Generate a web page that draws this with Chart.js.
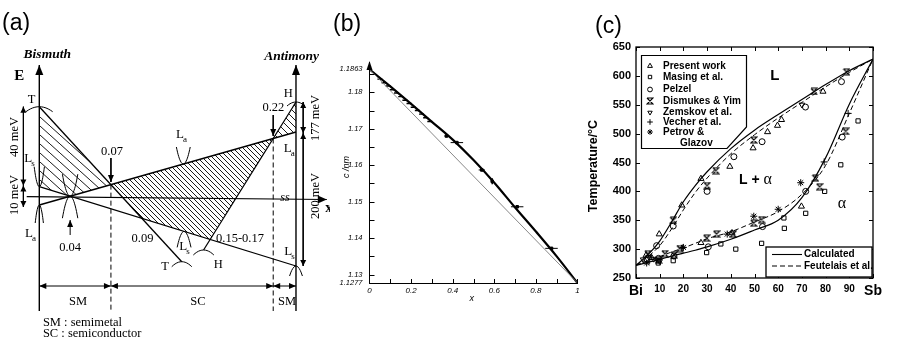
<!DOCTYPE html>
<html>
<head>
<meta charset="utf-8">
<script src="https://cdn.jsdelivr.net/npm/chart.js@4.4.1/dist/chart.umd.min.js"></script>
<style>
html, body { margin: 0; padding: 0; background: #fff; }
#wrap { position: relative; width: 900px; height: 348px; overflow: hidden; background: #fff; }
#wrap canvas { position: absolute; top: 0; }
.tag { position: absolute; font-family: "Liberation Sans", Arial, sans-serif; font-size: 23px; line-height: 1; color: #000; }
</style>
</head>
<body>
<div id="wrap">
  <canvas id="chart-a" width="330" height="348" style="left:0"></canvas>
  <canvas id="chart-b" width="255" height="348" style="left:330px"></canvas>
  <canvas id="chart-c" width="315" height="348" style="left:585px"></canvas>
  <div class="tag" style="left:2px;top:11px">(a)</div>
  <div class="tag" style="left:333px;top:12px">(b)</div>
  <div class="tag" style="left:595px;top:14px">(c)</div>
</div>
<script>
Chart.defaults.font.family = '"Liberation Sans", Arial, sans-serif';
Chart.defaults.color = "#000";
Chart.defaults.animation = false;

const SERIF = '"Liberation Serif", "Times New Roman", serif';
const SANS = '"Liberation Sans", Arial, sans-serif';

// ── (a) band scheme: x 0 = Bi, 100 = Sb (schematic), y energy (0 on the x axis) ──
const bandT  = [[0, 91.3], [55.5, -63.7]];
const bandLa = [[0, -7], [100, 66]];
const bandLs = [[0, 11.3], [100, -68]];
const bandH  = [[64, -52], [100, 96]];
// band edge sketches: [x, y, half width, depth]  depth < 0 -> cap
const bandEdges = [
  [0, 91.3, 5.2, -5], [0, 11.3, 2, 20], [0, -7, 1.6, -18],
  [12, 1.8, 3, 22], [12, 1.8, 3, -22],
  [56.1, 34, 2.7, 17], [56.4, -33.4, 2.7, -16],
  [55.5, -63.7, 3.9, -5], [64, -52, 4, -5],
  [100, 96, 3.5, -4], [100, -68, 2.5, -10]
];

// ── (b) c lattice parameter vs x ──
const latticeX = [0, 0.1, 0.2, 0.3, 0.4, 0.5, 0.6, 0.7, 0.8, 0.9, 1];
const latticeC = [1.1863, 1.1816, 1.1768, 1.1719, 1.1670, 1.1614, 1.1552, 1.1484, 1.1418, 1.1350, 1.1277];
const vegardX = [0, 1];
const vegardC = [1.1863, 1.1277];
const clusterX = [0.05, 0.07, 0.09, 0.11, 0.13, 0.15, 0.17, 0.19, 0.21, 0.23, 0.25, 0.27, 0.29];
const clusterC = [1.1836, 1.1826, 1.1817, 1.1807, 1.1798, 1.1788, 1.1778, 1.1769, 1.1759, 1.1750, 1.1740, 1.1730, 1.1720];
const measX  = [0.37, 0.42, 0.54, 0.59, 0.71, 0.875];
const measC  = [1.1680, 1.1662, 1.1587, 1.1556, 1.1486, 1.1372];
const measDx = [0.01, 0.03, 0.015, 0, 0.03, 0.03];
const measDc = [0, 0, 0, 0.0008, 0, 0];
const cTicks = [1.1277, 1.13, 1.14, 1.15, 1.16, 1.17, 1.18, 1.1863];
const xTicksB = [0, 0.2, 0.4, 0.6, 0.8, 1];

// ── (c) Bi-Sb phase diagram ──
const compX   = [0, 5, 10, 15, 20, 25, 30, 40, 50, 60, 70, 80, 90, 100];
const liqCalc = [272, 290, 314, 347, 382, 410, 434, 474, 506, 533, 559, 585, 609, 629];
const solCalc = [272, 277, 282, 288, 293, 298, 304, 317, 333, 350, 389, 458, 551, 629];
const liqFeut = [272, 287, 306, 335, 368, 398, 423, 465, 498, 527, 554, 581, 606, 629];
const solFeut = [272, 280, 287, 295, 302, 310, 318, 330, 347, 365, 395, 445, 535, 629];

const presentX = [4.2, 6.6, 9.8, 19.3, 27.4, 39.6, 49.4, 55.5, 59.7, 61.4, 78.9, 27.4, 40.5, 69.8];
const presentT = [289, 285, 326, 376, 422, 443, 475, 503, 514, 524, 573, 311, 328, 374];
const masingX = [9.4, 9.6, 15.7, 29.8, 35.8, 42.1, 53, 62.4, 62.6, 71.6, 79.6, 86.4, 93.7];
const masingT = [276, 280, 280, 294, 309, 300, 310, 354, 336, 362, 400, 446, 522];
const pelzelX = [8.7, 15.7, 30, 41.3, 53.2, 71.5, 86.7, 30.5, 53.4, 71.6, 87, 9.5, 16];
const pelzelT = [306, 340, 400, 460, 486, 546, 590, 304, 339, 400, 494, 284, 288];
const dismukesX = [5, 12.2, 15.7, 16.1, 18.5, 30, 33.7, 49.7, 75.1, 88.8, 29.8, 34, 41, 49.7, 53, 75.7, 77.5, 88.5, 9.5];
const dismukesT = [292, 292, 350, 290, 301, 410, 436, 489, 573, 607, 319, 326, 326, 345, 351, 423, 408, 504, 281];
const zemskovX = [3, 5.5, 7.5, 10, 70];
const zemskovT = [282, 286, 283, 279, 550];
const vecherX = [5.5, 19.5, 79.4, 89.5];
const vecherT = [279, 302, 451, 535];
const petrovX = [4.5, 20, 38.5, 49.7, 60, 69.5];
const petrovT = [276, 303, 326, 357, 369, 415];

// ── shared helpers ──────────────────────────────────────────────────
const zip = (xs, ys) => xs.map((x, i) => ({ x, y: ys[i] }));
const pairs = pts => pts.map(([x, y]) => ({ x, y }));

function cross(a, b) {
  const [[x1, y1], [x2, y2]] = a, [[x3, y3], [x4, y4]] = b;
  const m1 = (y2 - y1) / (x2 - x1), m2 = (y4 - y3) / (x4 - x3);
  const x = (y3 - y1 + m1 * x1 - m2 * x3) / (m1 - m2);
  return [x, y1 + m1 * (x - x1)];
}

function edgeCurve([x0, y0, hw, d]) {
  const pts = [];
  for (let i = -6; i <= 6; i++) {
    const t = i / 6;
    pts.push([x0 + hw * t, y0 + d * t * t]);
  }
  return pts;
}

function hatch(ctx, w, h) {
  const c = document.createElement("canvas");
  c.width = w; c.height = h;
  const g = c.getContext("2d");
  g.strokeStyle = "#000";
  g.lineWidth = 0.9;
  g.beginPath();
  g.moveTo(0, 0); g.lineTo(w, h);
  g.moveTo(-w, 0); g.lineTo(0, h);
  g.moveTo(w, 0); g.lineTo(2 * w, h);
  g.stroke();
  return ctx.createPattern(c, "repeat");
}

function seg(points, extra) {
  return Object.assign({
    type: "line",
    data: pairs(points),
    borderColor: "#000",
    borderWidth: 1,
    pointRadius: 0,
    fill: false,
    tension: 0,
  }, extra || {});
}

// arrowheads on dataset ends (dataset.arrows = 'end' | 'start' | 'both')
const arrowPlugin = {
  id: "arrows",
  afterDatasetsDraw(chart) {
    const ctx = chart.ctx;
    chart.data.datasets.forEach((ds, i) => {
      if (!ds.arrows) return;
      const pts = chart.getDatasetMeta(i).data;
      const n = pts.length;
      const len = ds.arrowLen || 8, half = ds.arrowHalf || 3;
      const head = (tip, from) => {
        const a = Math.atan2(tip.y - from.y, tip.x - from.x);
        ctx.save();
        ctx.translate(tip.x, tip.y);
        ctx.rotate(a);
        ctx.beginPath();
        ctx.moveTo(0, 0);
        ctx.lineTo(-len, -half);
        ctx.lineTo(-len, half);
        ctx.closePath();
        ctx.fillStyle = "#000";
        ctx.fill();
        ctx.restore();
      };
      if (ds.arrows === "end" || ds.arrows === "both") head(pts[n - 1], pts[n - 2]);
      if (ds.arrows === "start" || ds.arrows === "both") head(pts[0], pts[1]);
    });
  }
};

// ── Chart (a) ───────────────────────────────────────────────────────
const p04 = cross(bandLa, bandLs);
const p07 = cross(bandT, bandLa);
const p09 = cross(bandT, bandLs);
const p15 = cross(bandH, bandLs);
const p22 = cross(bandH, bandLa);

const notesA = [
  { t: "Bismuth", x: 3.1, y: 143, font: "italic bold 13.5px" },
  { t: "Antimony", x: 98.3, y: 141, font: "italic bold 13.5px" },
  { t: "E", x: -7.8, y: 122, font: "bold 15px" },
  { t: "T", x: -3, y: 98 },
  { t: "L", sub: "s", x: -4.3, y: 39.7 },
  { t: "L", sub: "a", x: -4, y: -35.3 },
  { t: "0.04", x: 12, y: -49.3 },
  { t: "0.07", x: 28.3, y: 46.3 },
  { t: "L", sub: "a", x: 54.8, y: 63 },
  { t: "0.09", x: 40.2, y: -40.3 },
  { t: "L", sub: "s", x: 56.1, y: -48.7 },
  { t: "T", x: 49, y: -68.7 },
  { t: "H", x: 69.7, y: -67 },
  { t: "0.15-0.17", x: 78.2, y: -40.3 },
  { t: "0.22", x: 91.2, y: 90.7 },
  { t: "H", x: 97, y: 104.7 },
  { t: "L", sub: "a", x: 96.8, y: 49 },
  { t: "L", sub: "s", x: 97, y: -53.7 },
  { t: "40 meV", x: -9.5, y: 61, rot: true },
  { t: "10 meV", x: -9.5, y: 3, rot: true },
  { t: "177 meV", x: 107.8, y: 80, rot: true },
  { t: "200 meV", x: 107.8, y: 2, rot: true },
  { t: "x", x: 112.8, y: -10, font: "bold 14px" },
  { t: "ss", x: 95.7, y: 0, font: "italic 12px" },
  { t: "SM", x: 15.1, y: -104 },
  { t: "SC", x: 61.8, y: -104 },
  { t: "SM", x: 96.5, y: -104 },
  { t: "SM : semimetal", x: 1.4, y: -125, align: "left" },
  { t: "SC : semiconductor", x: 1.4, y: -136, align: "left" },
];

const notesPluginA = {
  id: "notesA",
  afterDatasetsDraw(chart) {
    const { ctx, scales: { x, y } } = chart;
    ctx.save();
    ctx.fillStyle = "#000";
    ctx.textBaseline = "middle";
    notesA.forEach(n => {
      const px = x.getPixelForValue(n.x), py = y.getPixelForValue(n.y);
      ctx.font = (n.font || "12.5px") + " " + SERIF;
      if (n.rot) {
        ctx.save();
        ctx.translate(px, py);
        ctx.rotate(-Math.PI / 2);
        ctx.textAlign = "center";
        ctx.fillText(n.t, 0, 0);
        ctx.restore();
      } else if (n.sub) {
        ctx.font = "13px " + SERIF;
        ctx.textAlign = "center";
        ctx.fillText(n.t, px, py);
        const w = ctx.measureText(n.t).width;
        ctx.font = "9px " + SERIF;
        ctx.textAlign = "left";
        ctx.fillText(n.sub, px + w / 2 - 1, py + 5);
      } else {
        ctx.textAlign = n.align || "center";
        ctx.fillText(n.t, px, py);
      }
    });
    ctx.restore();
  }
};

const ctxA = document.getElementById("chart-a").getContext("2d");
const dsA = [
  seg([[0, bandT[0][1]], p07, p04, [0, bandLs[0][1]], [0, bandT[0][1]]],
      { fill: "shape", backgroundColor: hatch(ctxA, 10, 9), borderColor: "rgba(0,0,0,0)" }),
  seg([p07, p22, p15, p09, p07],
      { fill: "shape", backgroundColor: hatch(ctxA, 5, 5), borderColor: "rgba(0,0,0,0)" }),
  seg([p22, bandH[1], bandLa[1], p22],
      { fill: "shape", backgroundColor: hatch(ctxA, 7, 7), borderColor: "rgba(0,0,0,0)" }),
  seg(bandT, { borderWidth: 1.3 }),
  seg(bandLa, { borderWidth: 1.3 }),
  seg(bandLs, { borderWidth: 1.3 }),
  seg(bandH, { borderWidth: 1.3 }),
  ...bandEdges.map(e => seg(edgeCurve(e), { tension: 0.3 })),
  // axes
  seg([[0, -113], [0, 133]], { borderWidth: 1.4, arrows: "end", arrowLen: 10, arrowHalf: 4 }),
  seg([[100, -113], [100, 133]], { borderWidth: 1.4, arrows: "end", arrowLen: 10, arrowHalf: 4 }),
  seg([[-4.9, 1.3], [112, -1.5]], { borderWidth: 1.2, arrows: "end", arrowLen: 9, arrowHalf: 4 }),
  // dashed borders of the SC range
  seg([p07, [p07[0], -113]], { borderDash: [5, 3] }),
  seg([p22, [p22[0], -113]], { borderDash: [5, 3] }),
  // SM / SC / SM ranges
  seg([[0, -88], [p07[0], -88]], { arrows: "both", arrowLen: 7, arrowHalf: 3 }),
  seg([[p07[0], -88], [p22[0], -88]], { arrows: "both", arrowLen: 7, arrowHalf: 3 }),
  seg([[p22[0], -88], [100, -88]], { arrows: "both", arrowLen: 7, arrowHalf: 3 }),
  // energy gaps
  seg([[-6.2, 91.3], [-6.2, 12.5]], { arrows: "both", arrowLen: 6, arrowHalf: 3 }),
  seg([[-6.2, 12.5], [-6.2, -9]], { arrows: "both", arrowLen: 6, arrowHalf: 3 }),
  seg([[102.8, 96], [102.8, 65]], { arrows: "both", arrowLen: 6, arrowHalf: 3 }),
  seg([[102.8, 65], [102.8, -68]], { arrows: "both", arrowLen: 6, arrowHalf: 3 }),
  // pointers to the crossing compositions
  seg([[p07[0], 40], [p07[0], 16]], { arrows: "end", arrowLen: 7, arrowHalf: 3 }),
  seg([[p22[0], 83], [p22[0], 62]], { arrows: "end", arrowLen: 7, arrowHalf: 3 }),
  seg([[p04[0], -37], [p04[0], -22]], { arrows: "end", arrowLen: 7, arrowHalf: 3 }),
];

new Chart(ctxA, {
  type: "line",
  data: { datasets: dsA },
  options: {
    responsive: false,
    devicePixelRatio: 1,
    layout: { padding: 0 },
    plugins: { legend: { display: false }, tooltip: { enabled: false } },
    scales: {
      x: { type: "linear", min: -15.31, max: 113.25, display: false },
      y: { type: "linear", min: -150, max: 198, display: false },
    },
  },
  plugins: [arrowPlugin, notesPluginA],
});

// ── Chart (b) ───────────────────────────────────────────────────────
const axisPluginB = {
  id: "axisB",
  afterDraw(chart) {
    const { ctx, chartArea: a, scales: { x, y } } = chart;
    ctx.save();
    ctx.strokeStyle = "#000";
    ctx.lineWidth = 1;
    ctx.beginPath();
    for (let v = 1.13; v < 1.1871; v += 0.005) {
      const py = Math.round(y.getPixelForValue(v)) + 0.5;
      ctx.moveTo(a.left, py);
      ctx.lineTo(a.left + 5, py);
    }
    for (let v = 0.1; v < 1; v += 0.1) {
      const px = Math.round(x.getPixelForValue(v)) + 0.5;
      ctx.moveTo(px, a.bottom);
      ctx.lineTo(px, a.bottom - 4);
    }
    ctx.stroke();
    // arrow on the c axis
    ctx.fillStyle = "#000";
    ctx.beginPath();
    ctx.moveTo(a.left, a.top - 1);
    ctx.lineTo(a.left - 3, a.top + 8);
    ctx.lineTo(a.left + 3, a.top + 8);
    ctx.closePath();
    ctx.fill();
    // axis titles
    ctx.font = "italic 9px " + SANS;
    ctx.textAlign = "center";
    ctx.textBaseline = "middle";
    ctx.save();
    ctx.translate(16.5, 167);
    ctx.rotate(-Math.PI / 2);
    ctx.fillText("c /nm", 0, 0);
    ctx.restore();
    ctx.fillText("x", 141.7, 298);
    ctx.restore();
  }
};

const dsB = [
  { type: "line", data: zip(vegardX, vegardC), borderColor: "#7a7a7a", borderWidth: 0.9, pointRadius: 0 },
  { type: "line", data: zip(latticeX, latticeC), borderColor: "#000", borderWidth: 2.2, pointRadius: 0,
    cubicInterpolationMode: "monotone" },
  { type: "scatter", data: zip(clusterX, clusterC), pointStyle: "line", pointRadius: 2.5,
    pointBorderWidth: 1.4, pointBorderColor: "#000" },
  { type: "scatter", data: zip(measX, measC), pointStyle: "rect", pointRadius: 1.8,
    pointBackgroundColor: "#000", pointBorderColor: "#000" },
  ...measX.filter((_, i) => measDx[i] > 0).map(x0 => {
    const i = measX.indexOf(x0);
    return { type: "line", data: [{ x: x0 - measDx[i], y: measC[i] }, { x: x0 + measDx[i], y: measC[i] }],
      borderColor: "#000", borderWidth: 1, pointRadius: 0 };
  }),
  ...measX.filter((_, i) => measDc[i] > 0).map(x0 => {
    const i = measX.indexOf(x0);
    return { type: "line", data: [{ x: x0, y: measC[i] - measDc[i] }, { x: x0, y: measC[i] + measDc[i] }],
      borderColor: "#000", borderWidth: 1.5, pointRadius: 0 };
  }),
];

new Chart(document.getElementById("chart-b"), {
  type: "line",
  data: { datasets: dsB },
  options: {
    responsive: false,
    devicePixelRatio: 1,
    layout: { padding: { left: 0, right: 7.5, top: 62, bottom: 45 } },
    plugins: { legend: { display: false }, tooltip: { enabled: false } },
    scales: {
      x: {
        type: "linear", min: 0, max: 1,
        grid: { display: false, drawTicks: false },
        border: { display: true, color: "#000", width: 1 },
        afterBuildTicks: s => { s.ticks = xTicksB.map(v => ({ value: v })); },
        afterFit: s => { s.height = 20; },
        ticks: { autoSkip: false, maxRotation: 0, padding: 3,
          font: { size: 8, style: "italic" }, callback: v => String(v) },
      },
      y: {
        type: "linear", min: 1.1277, max: 1.1883,
        grid: { display: false, drawTicks: false },
        border: { display: true, color: "#000", width: 1 },
        afterBuildTicks: s => { s.ticks = cTicks.map(v => ({ value: v })); },
        afterFit: s => { s.width = 39.5; },
        ticks: { autoSkip: false, padding: 7, font: { size: 7.5, style: "italic" },
          callback: v => (v === 1.1277 || v === 1.1863) ? String(v) : v.toFixed(2) },
      },
    },
  },
  plugins: [axisPluginB],
});

// ── Chart (c) ───────────────────────────────────────────────────────
function hourglass() {
  const c = document.createElement("canvas");
  c.width = 8; c.height = 8;
  const g = c.getContext("2d");
  g.strokeStyle = "#000";
  g.lineWidth = 1.2;
  g.beginPath();
  g.moveTo(1, 1); g.lineTo(7, 1); g.lineTo(1, 7); g.lineTo(7, 7); g.lineTo(1, 1);
  g.stroke();
  return c;
}
const hgIcon = hourglass();

const markerSets = [
  { label: "Present work", xs: presentX, ts: presentT, style: "triangle", r: 3.5, rot: 0 },
  { label: "Masing et al.", xs: masingX, ts: masingT, style: "rect", r: 3, rot: 0 },
  { label: "Pelzel", xs: pelzelX, ts: pelzelT, style: "circle", r: 3, rot: 0 },
  { label: "Dismukes & Yim", xs: dismukesX, ts: dismukesT, style: hgIcon, r: 4, rot: 0 },
  { label: "Zemskov et al.", xs: zemskovX, ts: zemskovT, style: "triangle", r: 3.2, rot: 180 },
  { label: "Vecher et al.", xs: vecherX, ts: vecherT, style: "cross", r: 3.5, rot: 0 },
  { label: "Petrov &|Glazov", xs: petrovX, ts: petrovT, style: "star", r: 3.5, rot: 0 },
];

const dsC = [
  { type: "line", data: zip(compX, liqCalc), borderColor: "#000", borderWidth: 1.2, pointRadius: 0, cubicInterpolationMode: "monotone" },
  { type: "line", data: zip(compX, solCalc), borderColor: "#000", borderWidth: 1.2, pointRadius: 0, cubicInterpolationMode: "monotone" },
  { type: "line", data: zip(compX, liqFeut), borderColor: "#000", borderWidth: 1, borderDash: [5, 3], pointRadius: 0, cubicInterpolationMode: "monotone" },
  { type: "line", data: zip(compX, solFeut), borderColor: "#000", borderWidth: 1, borderDash: [5, 3], pointRadius: 0, cubicInterpolationMode: "monotone" },
  ...markerSets.map(m => ({
    type: "scatter", label: m.label, data: zip(m.xs, m.ts),
    pointStyle: m.style, pointRadius: m.r, pointRotation: m.rot,
    pointBorderColor: "#000", pointBackgroundColor: "rgba(0,0,0,0)", pointBorderWidth: 1,
  })),
];

const framePluginC = {
  id: "frameC",
  afterDraw(chart) {
    const { ctx, chartArea: a, scales: { x, y } } = chart;
    const P = Chart.helpers && Chart.helpers.drawPoint;
    ctx.save();
    ctx.strokeStyle = "#000";
    ctx.lineWidth = 1.3;
    ctx.strokeRect(a.left, a.top, a.right - a.left, a.bottom - a.top);
    ctx.lineWidth = 1;
    ctx.beginPath();
    y.ticks.forEach(t => {
      const py = Math.round(y.getPixelForValue(t.value)) + 0.5;
      ctx.moveTo(a.left, py); ctx.lineTo(a.left + 4, py);
      ctx.moveTo(a.right, py); ctx.lineTo(a.right - 4, py);
    });
    x.ticks.forEach(t => {
      const px = Math.round(x.getPixelForValue(t.value)) + 0.5;
      ctx.moveTo(px, a.bottom); ctx.lineTo(px, a.bottom - 4);
      ctx.moveTo(px, a.top); ctx.lineTo(px, a.top + 4);
    });
    ctx.stroke();

    // y title
    ctx.fillStyle = "#000";
    ctx.font = "bold 12.5px " + SANS;
    ctx.textAlign = "center";
    ctx.textBaseline = "middle";
    ctx.save();
    ctx.translate(9, 166);
    ctx.rotate(-Math.PI / 2);
    ctx.fillText("Temperature/°C", 0, 0);
    ctx.restore();

    // phase fields
    ctx.font = "bold 15px " + SANS;
    ctx.fillText("L", x.getPixelForValue(58.6), y.getPixelForValue(600));
    const lx = x.getPixelForValue(53), ly = y.getPixelForValue(420);
    ctx.font = "bold 14px " + SANS;
    ctx.textAlign = "right";
    ctx.fillText("L + ", lx + 2, ly);
    ctx.font = "16px " + SERIF;
    ctx.textAlign = "left";
    ctx.fillText("α", lx + 2, ly);
    ctx.textAlign = "center";
    ctx.fillText("α", x.getPixelForValue(86.9), y.getPixelForValue(378));

    // symbol legend
    ctx.beginPath();
    ctx.moveTo(56.5, 55.5); ctx.lineTo(161.5, 55.5); ctx.lineTo(161.5, 127);
    ctx.lineTo(142, 148.5); ctx.lineTo(56.5, 148.5); ctx.closePath();
    ctx.fillStyle = "#fff";
    ctx.fill();
    ctx.lineWidth = 1.2;
    ctx.stroke();
    const rows = [66, 77, 89.5, 101, 112.5, 122, 132];
    ctx.font = "bold 10px " + SANS;
    ctx.textAlign = "left";
    markerSets.forEach((m, i) => {
      ctx.strokeStyle = "#000";
      ctx.fillStyle = "rgba(0,0,0,0)";
      ctx.lineWidth = 1;
      if (P) P(ctx, { pointStyle: m.style, rotation: m.rot, radius: m.r * 0.8, borderWidth: 1 }, 65, rows[i]);
      ctx.fillStyle = "#000";
      const parts = m.label.split("|");
      ctx.fillText(parts[0], 78, rows[i]);
      if (parts[1]) ctx.fillText(parts[1], 95, rows[i] + 11);
    });

    // curve legend
    ctx.fillStyle = "#fff";
    ctx.fillRect(181, 247, 106, 30);
    ctx.strokeStyle = "#000";
    ctx.lineWidth = 1.3;
    ctx.strokeRect(181, 247, 106, 30);
    ctx.lineWidth = 1.1;
    ctx.beginPath();
    ctx.moveTo(187, 254.5); ctx.lineTo(217, 254.5);
    ctx.stroke();
    ctx.setLineDash([5, 3]);
    ctx.beginPath();
    ctx.moveTo(187, 266); ctx.lineTo(217, 266);
    ctx.stroke();
    ctx.setLineDash([]);
    ctx.fillStyle = "#000";
    ctx.fillText("Calculated", 219, 254.5);
    ctx.fillText("Feutelais et al.", 219, 266);
    ctx.restore();
  }
};

new Chart(document.getElementById("chart-c"), {
  type: "line",
  data: { datasets: dsC },
  options: {
    responsive: false,
    devicePixelRatio: 1,
    layout: { padding: { left: 0, right: 27, top: 47, bottom: 50 } },
    plugins: { legend: { display: false }, tooltip: { enabled: false } },
    scales: {
      x: {
        type: "linear", min: 0, max: 100,
        grid: { display: false, drawTicks: false },
        border: { display: false },
        afterFit: s => { s.height = 20; },
        ticks: {
          stepSize: 10, autoSkip: false, maxRotation: 0, padding: 5,
          font: c => (c.tick && (c.tick.value === 0 || c.tick.value === 100))
            ? { size: 14, weight: "bold" } : { size: 10, weight: "bold" },
          callback: v => v === 0 ? "Bi" : v === 100 ? "Sb" : String(v),
        },
      },
      y: {
        type: "linear", min: 250, max: 650,
        grid: { display: false, drawTicks: false },
        border: { display: false },
        afterFit: s => { s.width = 51; },
        ticks: { stepSize: 50, padding: 5, font: { size: 11, weight: "bold" } },
      },
    },
  },
  plugins: [framePluginC],
});
</script>
</body>
</html>
